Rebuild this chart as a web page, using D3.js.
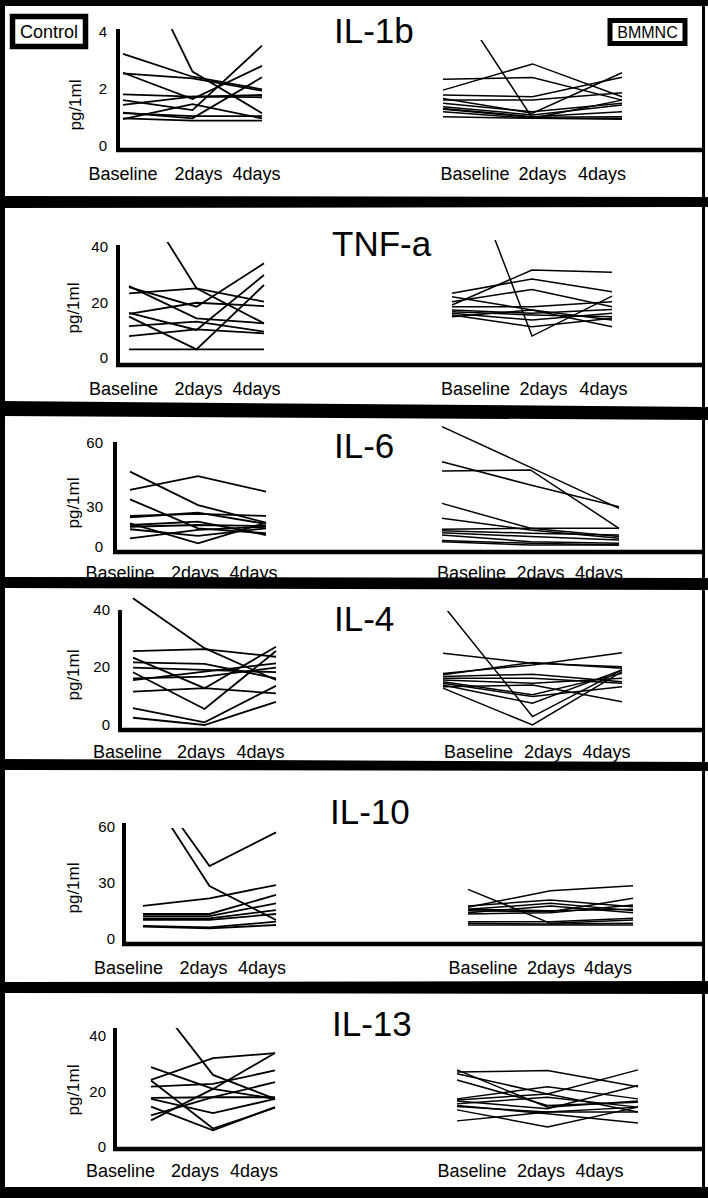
<!DOCTYPE html>
<html><head><meta charset="utf-8">
<script src="https://cdn.jsdelivr.net/npm/d3@7"></script>
<style>
body{margin:0;background:#fff}
svg{display:block}
text{font-family:"Liberation Sans",Arial,Helvetica,sans-serif;fill:#000}
</style>
</head><body>
<svg id="c" width="708" height="1198"></svg>
<script>
// ---------------- DATA ----------------
const timepoints = ["Baseline", "2days", "4days"];
const cytokines = ["IL-1b", "TNF-a", "IL-6", "IL-4", "IL-10", "IL-13"];
const groupLabels = ["Control", "BMMNC"];
const unitLabel = "pg/1ml";

const il1bTicks = [0, 2, 4];
const il1bControl = [[7.6,2.61,1.15],[3.23,2.43,1.99],[2.57,1.65,2.81],[2.55,2.37,1.94],[1.81,1.73,1.79],[1.61,1.26,3.52],[1.44,1.73,1.71],[1.17,0.97,2.41],[1.15,1.05,1.05],[0.97,0.89,0.89],[0.94,1.47,0.97]];
const il1bBMMNC = [[5.76,0.97,1.61],[1.96,2.88,1.73],[2.34,2.40,1.61],[1.79,1.73,2.41],[1.67,1.15,2.57],[1.61,1.61,1.87],[1.50,1.20,1.50],[1.38,1.09,1.44],[1.32,1.03,1.20],[1.29,1.01,1.03],[1.20,0.97,0.97],[1.03,0.97,0.94]];

const tnfTicks = [0, 20, 40];
const tnfControl = [[64,25.1,12.5],[23.3,25.1,20.3],[25.9,14.3,12.5],[25.5,18.5,34.1],[16.3,10.1,29.9],[15.9,19.9,18.7],[14.9,3.1,26.3],[11.5,13.1,9.5],[7.9,10.3,8.9],[3.1,3.1,3.1]];
const tnfBMMNC = [[83,7.9,22.3],[19.1,31.7,30.9],[23.3,28.5,23.9],[20.3,24.7,18.5],[22.1,17.3,11.3],[18.5,18.5,20.3],[17.3,16.1,17.5],[16.7,15.5,14.9],[16.1,13.7,16.1],[15.5,11.3,14.3],[14.9,17.3,13.7]];

const il6Ticks = [0, 30, 60];
const il6Control = [[46.6,30.9,18.2],[38.0,44.5,37.2],[33.6,14.0,10.3],[23.3,24.8,23.3],[22.3,25.7,17.3],[17.8,2.8,18.2],[16.5,19.0,9.0],[15.2,16.5,15.8],[13.3,8.3,14.0],[6.5,12.8,15.2]];
const il6BMMNC = [[67.7,48.6,29.0],[51.2,40.3,30.1],[46.9,47.4,14.0],[31.7,14.0,7.8],[21.5,12.8,6.5],[13.3,14.0,14.0],[12.2,10.3,9.0],[10.7,7.8,5.3],[9.0,4.0,2.8],[4.8,2.8,1.5],[4.0,1.5,1.5]];

const il4Ticks = [0, 20, 40];
const il4Control = [[44.1,26.6,15.5],[25.6,26.3,23.6],[23.3,12.7,27.1],[21.6,21.1,16.1],[19.8,19.0,18.2],[18.2,5.5,25.6],[16.1,16.7,19.8],[15.5,18.4,21.3],[11.5,12.7,10.9],[5.8,0.9,13.5],[2.5,0,8.0]];
const il4BMMNC = [[41.7,2.9,19.0],[24.8,21.3,20.1],[12.7,0,18.4],[17.8,20.7,25.0],[17.3,21.6,19.6],[16.7,17.5,14.9],[16.1,16.1,14.4],[15.5,14.4,16.1],[14.9,10.4,17.8],[14.4,9.8,13.2],[13.8,7.5,19.0],[13.2,13.8,8.0]];

const il10Ticks = [0, 30, 60];
const il10Control = [[83.5,28.4,10.2],[88.9,39.1,57.1],[17.7,21.8,28.9],[13.4,13.4,23.6],[12.3,12.3,19.1],[11.1,11.1,15.5],[10.2,10.2,13.4],[7.0,6.2,9.3],[6.6,5.7,7.5]];
const il10BMMNC = [[26.6,8.4,10.2],[17.0,25.9,28.5],[17.7,20.9,17.3],[15.9,19.1,15.2],[15.2,14.6,21.8],[14.1,17.7,14.1],[13.4,14.1,18.2],[15.9,15.2,15.9],[9.3,9.3,11.1],[8.4,8.0,8.4],[7.5,7.5,7.5]];

const il13Ticks = [0, 20, 40];
const il13Control = [[54.6,26.1,17.5],[28.9,21.1,17.5],[24.3,32.1,33.9],[24.1,6.7,14.3],[21.9,22.9,27.7],[17.9,18.1,18.1],[17.5,12.3,17.5],[14.7,6.1,14.5],[11.5,18.1,23.5],[9.7,21.1,33.9]];
const il13BMMNC = [[27.1,27.7,21.9],[27.9,14.5,16.7],[26.5,19.3,12.7],[24.3,15.1,16.3],[17.5,21.9,17.5],[17.1,19.3,27.9],[16.7,13.9,22.3],[15.7,18.1,14.5],[14.7,12.7,12.7],[13.5,7.3,14.5],[9.5,12.7,14.5],[15.1,12.1,8.7]];

const ticksList = [il1bTicks, tnfTicks, il6Ticks, il4Ticks, il10Ticks, il13Ticks];
const controlList = [il1bControl, tnfControl, il6Control, il4Control, il10Control, il13Control];
const bmmncList = [il1bBMMNC, tnfBMMNC, il6BMMNC, il4BMMNC, il10BMMNC, il13BMMNC];

// ---------------- LAYOUT ----------------
const W = 708, H = 1198;
const layout = [
  {axisX:118, axisTop:29, axisY:150, yRng:[146,89,32], L:{x:[123,262], lab:[123,198.5,256.5], clip:29}, R:{x:[443,622], lab:[475,542.5,602], clip:40}, labY:173, tickX:107, ylab:[75,105], title:[334,43]},
  {axisX:118, axisTop:245, axisY:365, yRng:[358,302.5,247], L:{x:[129,264], lab:[123.5,198.5,256.5], clip:242}, R:{x:[452,612], lab:[475.5,543.5,603.5], clip:240}, labY:388, tickX:108, ylab:[73,308], title:[332,256]},
  {axisX:115, axisTop:442, axisY:552, yRng:[547,507,443], L:{x:[130,266], lab:[120,195,253.5], clip:420}, R:{x:[442,619], lab:[471.5,540.5,599], clip:420}, labY:572, tickX:103, ylab:[73,503], title:[334,458]},
  {axisX:120, axisTop:610, axisY:730, yRng:[725,667,610], L:{x:[133,276], lab:[127.5,201,260.5], clip:588}, R:{x:[443,622], lab:[478.5,548,606.5], clip:611}, labY:751, tickX:110, ylab:[73,675], title:[334,631]},
  {axisX:124, axisTop:823, axisY:944, yRng:[939,883,827], L:{x:[143,276], lab:[128.5,203.5,262], clip:828}, R:{x:[468,633], lab:[483,551,608], clip:770}, labY:967, tickX:115, ylab:[73,888], title:[330,824]},
  {axisX:115, axisTop:1028, axisY:1149, yRng:[1147,1092,1036], L:{x:[151,275], lab:[120.5,195,254], clip:1028}, R:{x:[457,638], lab:[472,541,599.5], clip:990}, labY:1170, tickX:106, ylab:[73,1090], title:[332,1036]}
];
// black separator bands: [leftTop, leftBottom, rightTop, rightBottom]
const bands = [[0,6,0,6],[196,208,197,207],[401,416,407,420],[577,588,578,590],[759,770,762,771],[982,993,981,994],[1187,1198,1187,1198]];

const svg = d3.select("#c");
svg.append("rect").attr("width", W).attr("height", H).attr("fill", "#fff");

// frame
svg.append("rect").attr("x",0).attr("y",0).attr("width",5).attr("height",H).attr("fill","#000");
svg.append("rect").attr("x",702).attr("y",0).attr("width",3).attr("height",H).attr("fill","#000");
bands.forEach(b => {
  svg.append("polygon").attr("points", `0,${b[0]} ${W},${b[2]} ${W},${b[3]} 0,${b[1]}`).attr("fill","#000");
});

const defs = svg.append("defs");
const line = (xs, y) => d3.line().x((d,i) => xs(timepoints[i])).y(d => y(d));

layout.forEach((lay, p) => {
  const ticks = ticksList[p];
  const y = d3.scaleLinear().domain(ticks).range(lay.yRng);
  const g = svg.append("g");

  // axes lines
  g.append("line").attr("x1", lay.axisX).attr("x2", lay.axisX).attr("y1", lay.axisTop).attr("y2", lay.axisY + 2)
    .attr("stroke","#000").attr("stroke-width",4);
  g.append("line").attr("x1", lay.axisX - 2).attr("x2", 703).attr("y1", lay.axisY).attr("y2", lay.axisY)
    .attr("stroke","#000").attr("stroke-width",4.5);

  // tick labels
  const ax = g.append("g").attr("transform", `translate(${lay.tickX},0)`)
    .call(d3.axisLeft(y).tickValues(ticks).tickSize(0).tickPadding(0).tickFormat(d3.format("d")));
  ax.select(".domain").remove();
  ax.selectAll("text").attr("font-size", 15).style("font-family", '"Liberation Sans",Arial,sans-serif').attr("fill","#000");

  // unit label
  g.append("text").attr("transform", `translate(${lay.ylab[0]},${lay.ylab[1]}) rotate(-90)`)
    .attr("text-anchor","middle").attr("dy","0.35em").attr("font-size",17).text(unitLabel);

  // title
  g.append("text").attr("x", lay.title[0]).attr("y", lay.title[1]).attr("font-size", 35).text(cytokines[p]);

  // both groups
  [["L", controlList[p]], ["R", bmmncList[p]]].forEach(([side, series]) => {
    const s = lay[side];
    const xs = d3.scalePoint().domain(timepoints).range(s.x);
    const labX = d3.scaleOrdinal().domain(timepoints).range(s.lab);
    const cid = `clip${p}${side}`;
    defs.append("clipPath").attr("id", cid).append("rect")
      .attr("x", 0).attr("y", s.clip).attr("width", W).attr("height", lay.axisY - s.clip);
    g.append("g").attr("clip-path", `url(#${cid})`).selectAll("path").data(series).join("path")
      .attr("d", line(xs, y)).attr("fill","none").attr("stroke","#000")
      .attr("stroke-width", side === "L" ? 1.8 : 1.5).attr("stroke-linejoin","miter");
    g.append("g").selectAll("text").data(timepoints).join("text")
      .attr("x", d => labX(d)).attr("y", lay.labY + 6.5).attr("text-anchor","middle")
      .attr("font-size", 18).text(d => d);
  });
});

// group boxes (top panel)
svg.append("rect").attr("x",12.5).attr("y",16.5).attr("width",73).attr("height",30)
  .attr("fill","#fff").attr("stroke","#000").attr("stroke-width",5.5);
svg.append("text").attr("x",49).attr("y",38).attr("text-anchor","middle").attr("font-size",18).text(groupLabels[0]);
svg.append("rect").attr("x",610).attr("y",20.5).attr("width",75).attr("height",23)
  .attr("fill","#fff").attr("stroke","#000").attr("stroke-width",5);
svg.append("text").attr("x",647.5).attr("y",37.5).attr("text-anchor","middle").attr("font-size",16).text(groupLabels[1]);
</script>
</body></html>
